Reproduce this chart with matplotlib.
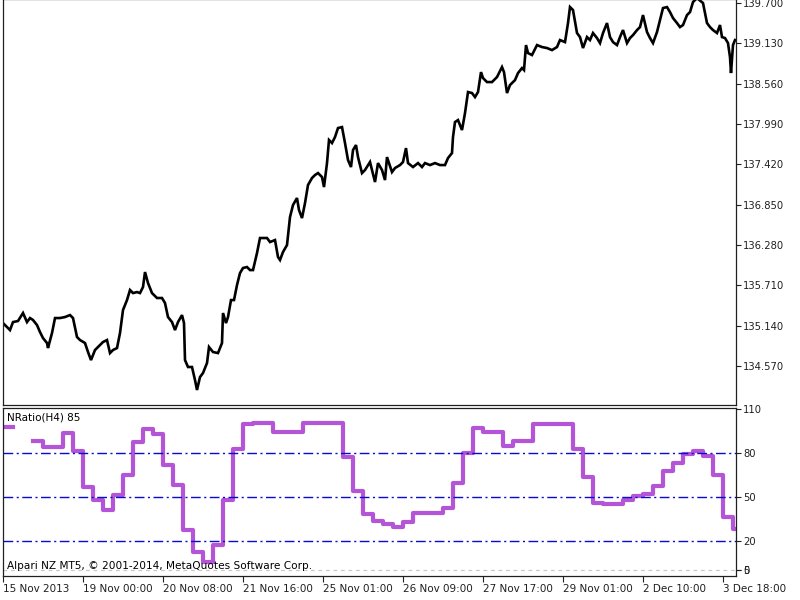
import numpy as np
import matplotlib.pyplot as plt

# H1 bars, bar 0 = 15 Nov 2013 label position
price_bar = [0, 0.8, 2.8, 4, 6, 8, 9.6, 10.8, 12, 13.6, 14.8, 16, 17.6, 18, 19.6, 20.8, 22.8, 24.8, 26.8, 28,
             29.6, 30.8, 32.8, 34, 35.2, 36.8, 38.8, 40, 41.6, 42.8, 44, 45.6, 46.8, 48, 49.6, 50.8, 52, 53.6, 54.8, 56,
             56.8, 58, 59.6, 61.6, 63.6, 64.8, 66, 67.6, 68.8, 70, 71.6, 72.4, 72.8, 74, 75.6, 76.8, 77.6, 78.8, 80, 81.6,
             82.4, 84, 86, 87.6, 88, 89.2, 90, 91.2, 92.4, 93.6, 94.8, 96, 97.6, 98.8, 100, 101.6, 102.8, 104, 105.6, 106.8,
             108.8, 110, 110.8, 112, 113.6, 114.8, 116, 117.6, 118.4, 119.6, 120.8, 122, 123.6, 124.8, 126, 127.6, 128.4, 129.6, 130.4, 131.6,
             132.8, 134, 135.6, 136.8, 138, 139.2, 140, 141.2, 142, 143.6, 144.8, 146.8, 148.8, 150, 151.6, 152.8, 153.6, 155.6, 156.8, 158.8,
             160, 161.2, 162, 164, 166, 167.6, 168.8, 170.8, 172.8, 174.8, 176.8, 178, 179.6, 180, 180.8, 182, 183.6, 184.8, 186, 187.6,
             188.8, 190, 191.2, 192, 193.6, 195.6, 197.6, 199.6, 200.4, 201.6, 202.8, 204.8, 206, 207.6, 208.4, 209.2, 210, 211.6, 213.6, 215.6,
             217.6, 219.6, 221.6, 222.8, 224.8, 226, 226.8, 228, 229.6, 230.8, 232, 233.6, 234.8, 236, 237.6, 238.8, 240, 241.6, 242.8, 244,
             245.6, 246.8, 248, 249.6, 250.8, 252, 253.6, 254.8, 256, 257.6, 258.8, 260, 261.6, 262.8, 264, 265.6, 266.8, 268, 269.6, 270.8,
             272, 273.6, 274.8, 276, 277.6, 280, 281.6, 282.8, 284, 285.6, 286.8, 287.6, 288.8, 290, 290.8, 291.2, 292, 292.8]
price_close = [135.177, 135.149, 135.078, 135.191, 135.206, 135.319, 135.191, 135.248, 135.220, 135.149, 135.050, 134.965, 134.895, 134.824, 135.036, 135.248, 135.248, 135.262, 135.290, 135.248,
               134.980, 134.937, 134.895, 134.768, 134.654, 134.796, 134.866, 134.909, 134.937, 134.753, 134.796, 134.824, 135.036, 135.361, 135.502, 135.644, 135.601, 135.615, 135.601, 135.686,
               135.898, 135.743, 135.601, 135.531, 135.531, 135.460, 135.262, 135.191, 135.078, 135.191, 135.290, 135.177, 134.654, 134.556, 134.556, 134.372, 134.231, 134.414, 134.471, 134.612,
               134.838, 134.768, 134.753, 134.895, 135.319, 135.177, 135.262, 135.502, 135.502, 135.714, 135.884, 135.955, 135.969, 135.926, 135.926, 136.167, 136.379, 136.379, 136.379, 136.322,
               136.350, 136.110, 136.068, 136.181, 136.280, 136.675, 136.845, 136.944, 136.774, 136.661, 136.873, 137.128, 137.227, 137.269, 137.297, 137.241, 137.099, 137.438, 137.764, 137.721,
               137.806, 137.933, 137.947, 137.721, 137.481, 137.382, 137.622, 137.693, 137.523, 137.297, 137.340, 137.453, 137.170, 137.438, 137.340, 137.198, 137.523, 137.311, 137.368, 137.410,
               137.453, 137.650, 137.438, 137.382, 137.438, 137.382, 137.438, 137.410, 137.438, 137.410, 137.410, 137.509, 137.580, 137.806, 138.018, 138.046, 137.905, 138.145, 138.442, 138.428,
               138.371, 138.442, 138.724, 138.640, 138.583, 138.583, 138.654, 138.795, 138.724, 138.428, 138.541, 138.611, 138.710, 138.781, 138.753, 139.106, 138.993, 138.965, 139.106, 139.078,
               139.064, 139.035, 139.078, 139.177, 139.148, 139.417, 139.643, 139.601, 139.276, 139.219, 139.064, 139.219, 139.177, 139.276, 139.205, 139.134, 139.276, 139.417, 139.219, 139.148,
               139.106, 139.219, 139.318, 139.134, 139.205, 139.247, 139.318, 139.360, 139.530, 139.290, 139.205, 139.134, 139.290, 139.459, 139.629, 139.643, 139.572, 139.488, 139.417, 139.360,
               139.389, 139.530, 139.572, 139.714, 139.770, 139.700, 139.417, 139.360, 139.318, 139.276, 139.389, 139.219, 139.205, 139.134, 138.936, 138.710, 139.106, 139.177]

# NRatio(H4): one value per H4 block (4 H1 bars), nan = no value drawn
nratio_first_bar = 0
nratio_block = 4
nratio_values = [98, np.nan, np.nan, 88.6, 84.5, 84.5, 93.7, 81.8, 57.2, 48.1, 41.2, 51.5, 65.2, 88, 96.4, 93, 72,
                 58.3, 27.5, 12.7, 5.9, 17.3, 48.1, 82.7, 100, 101, 101, 94.3, 94.3, 94.3, 101, 101, 101, 101,
                 77.7, 54.4, 38.5, 33.9, 31.6, 29.8, 33.2, 38.9, 39.4, 38.9, 42.8, 59.9, 80, 97.1, 94.8, 94.8,
                 85, 88.6, 88.6, 100, 100, 100, 100, 82.7, 64, 46.2, 45.3, 45.3, 48.1, 50.8, 52.1, 57.6, 68.1,
                 73.6, 79.5, 81.8, 78.2, 65.2, 36.7, 28]

price_ticks = [139.700, 139.130, 138.560, 137.990, 137.420, 136.850, 136.280, 135.710, 135.140, 134.570]
level_values = [80, 50, 20]
nratio_ticks = [110, 80, 50, 20, 0]
date_bars = [0, 32, 64, 96, 128, 160, 192, 224, 256, 288]
date_labels = ['15 Nov 2013', '19 Nov 00:00', '20 Nov 08:00', '21 Nov 16:00', '25 Nov 01:00',
               '26 Nov 09:00', '27 Nov 17:00', '29 Nov 01:00', '2 Dec 10:00', '3 Dec 18:00']

plt.rcParams['font.family'] = ['DejaVu Sans']
plt.rcParams['font.size'] = 7

fig = plt.figure(figsize=(8, 6), dpi=100)
ax1 = fig.add_axes([3 / 800, 1 - 405 / 600, 733 / 800, 406 / 600])
ax2 = fig.add_axes([3 / 800, 1 - 576 / 600, 733 / 800, 168 / 600])

for ax in (ax1, ax2):
    for s in ax.spines.values():
        s.set_color('#202020')
        s.set_linewidth(0.9)
    ax.set_xlim(0, 293.2)
    ax.yaxis.tick_right()
    ax.tick_params(axis='y', which='both', direction='out', length=3.6, width=0.8, pad=1.5,
                   labelsize=7.2, colors='#202020')

# price panel
ax1.plot(price_bar, price_close, color='black', lw=1.9, solid_joinstyle='miter')
ax1.set_ylim(134.019, 139.757)
ax1.set_yticks(price_ticks)
ax1.set_yticklabels([f'{v:.3f}' for v in price_ticks])
ax1.set_xticks([])

# indicator panel
edges = nratio_first_bar + nratio_block * np.arange(len(nratio_values) + 1)
vals = np.append(nratio_values, nratio_values[-1])
ax2.step(edges, vals, where='post', color='#b455d8', lw=3.0, solid_joinstyle='round')
for lv in level_values:
    ax2.axhline(lv, color='#0a0ad0', lw=1.0, linestyle=(0, (7, 2.5, 1.5, 2.5)))
ax2.axhline(0, color='#c8c8c8', lw=0.9, linestyle=(0, (3, 3)))
ax2.set_ylim(-3.9, 111.0)
ax2.yaxis.remove_overlapping_locs = False
ax2.set_yticks(nratio_ticks)
ax2.set_yticklabels([str(v) for v in nratio_ticks])
ax2.set_yticks([0], minor=True)
ax2.set_yticklabels(['5'], minor=True)
ax2.set_xticks(date_bars)
ax2.set_xticklabels(date_labels, ha='left')
ax2.tick_params(axis='x', direction='out', length=4.3, width=0.8, pad=1.5, labelsize=7.5, colors='#202020')

ax2.text(0.0055, 0.975, 'NRatio(H4) 85', transform=ax2.transAxes, ha='left', va='top', fontsize=7.5)
ax2.text(0.0055, 0.03, 'Alpari NZ MT5, \u00a9 2001-2014, MetaQuotes Software Corp.',
         transform=ax2.transAxes, ha='left', va='bottom', fontsize=7.6)

fig.savefig('out.png', dpi=100)
